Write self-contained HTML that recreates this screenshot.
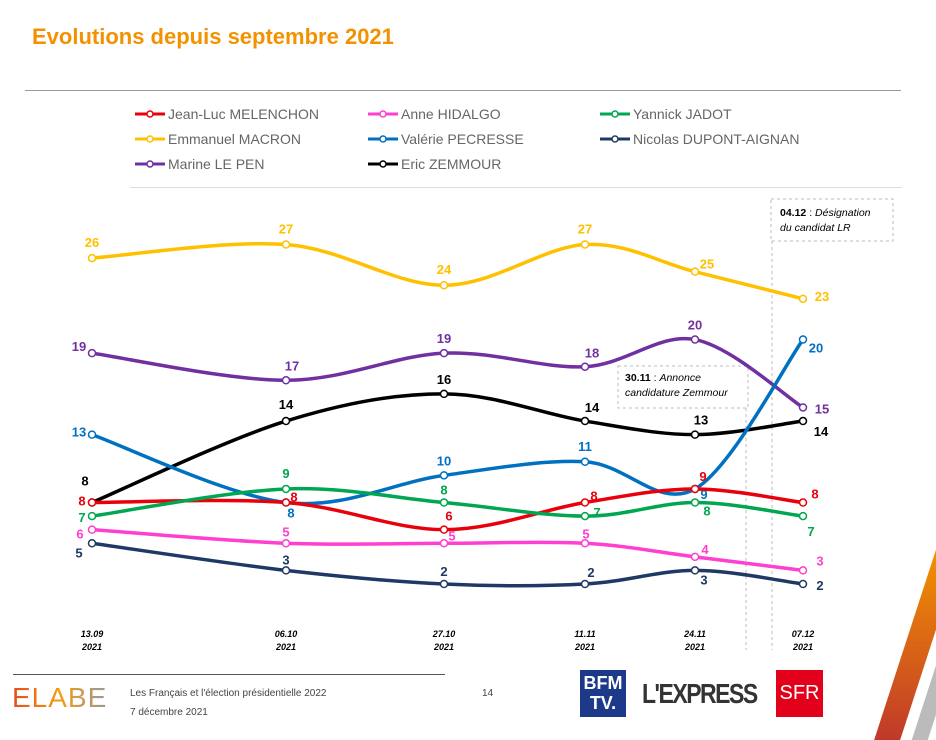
<!DOCTYPE html>
<html><head><meta charset="utf-8">
<style>
body{margin:0;width:936px;height:729px;background:#fff;font-family:"Liberation Sans",sans-serif;overflow:hidden;position:relative}
.abs{position:absolute}
</style></head><body>
<div class="abs" style="left:32px;top:24px;font-size:22px;font-weight:bold;color:#f39200">Evolutions depuis septembre 2021</div>
<div class="abs" style="left:25px;top:90px;width:876px;height:1px;background:#999"></div>
<div class="abs" style="left:130px;top:187px;width:772px;height:1px;background:#ddd"></div>
<svg id="chart" class="abs" style="left:0;top:0" width="936" height="729"></svg>
<div class="abs" style="left:13px;top:674px;width:432px;height:1px;background:#555"></div>
<div class="abs" style="left:12px;top:682px;font-size:28px;letter-spacing:1px;color:#c0392b;background:linear-gradient(90deg,#e74c1c,#f39c12,#999);-webkit-background-clip:text;background-clip:text;-webkit-text-fill-color:transparent">ELABE</div>
<div class="abs" style="left:130px;top:688px;font-size:10px;color:#444">Les Français et l'élection présidentielle 2022</div>
<div class="abs" style="left:130px;top:707px;font-size:10px;color:#444">7 décembre 2021</div>
<div class="abs" style="left:482px;top:688px;font-size:10px;color:#444">14</div>
<div class="abs" style="left:580px;top:670px;width:46px;height:47px;background:#1d3a8a;color:#fff;font-weight:bold;font-size:18px;line-height:20px;text-align:center;padding-top:3px;box-sizing:border-box">BFM<br>TV.</div>
<div class="abs" style="left:642px;top:678px;font-size:23px;font-weight:bold;color:#333;letter-spacing:-1.5px;transform:scaleY(1.2);transform-origin:top left">L'EXPRESS</div>
<div class="abs" style="left:776px;top:670px;width:47px;height:47px;background:#e2001a;color:#fff;font-size:20px;line-height:47px;text-align:center">SFR</div>
<div class="abs" style="left:905px;top:550px;width:26px;height:190px;background:linear-gradient(#f39200,#c0392b);transform:skewX(-18deg)"></div>
<div class="abs" style="left:928px;top:640px;width:16px;height:100px;background:#bbb;transform:skewX(-18deg)"></div>
<script>
const dates=["13.09","06.10","27.10","11.11","24.11","07.12"];
const years=["2021","2021","2021","2021","2021","2021"];
const names=["Jean-Luc MELENCHON","Anne HIDALGO","Yannick JADOT","Emmanuel MACRON","Valérie PECRESSE","Nicolas DUPONT-AIGNAN","Marine LE PEN","Eric ZEMMOUR"];
const melenchon=[8,8,6,8,9,8];
const hidalgo=[6,5,5,5,4,3];
const jadot=[7,9,8,7,8,7];
const macron=[26,27,24,27,25,23];
const pecresse=[13,8,10,11,9,20];
const dupontAignan=[5,3,2,2,3,2];
const lepen=[19,17,19,18,20,15];
const zemmour=[8,14,16,14,13,14];
const series=[melenchon,hidalgo,jadot,macron,pecresse,dupontAignan,lepen,zemmour];
const colors=["#e8000b","#ff3fcf","#00a650","#ffc000","#0070c0","#1f3864","#7030a0","#000000"];
const xPix=[92,286,444,585,695,803];
const ns="http://www.w3.org/2000/svg";
const svg=document.getElementById('chart');
function X(i){return xPix[i];}
function Y(v){return 584-(v-2)*13.58;}
function mk(t,a){const e=document.createElementNS(ns,t);for(const k in a)e.setAttribute(k,a[k]);svg.appendChild(e);return e;}
const offs=[
 [[-10,-2],[8,-6],[5,-14],[9,-7],[8,-13],[12,-9]],
 [[-12,4],[0,-12],[8,-8],[1,-10],[10,-8],[17,-10]],
 [[-10,1],[0,-16],[0,-13],[12,-4],[12,8],[8,15]],
 [[0,-16],[0,-16],[0,-16],[0,-16],[12,-8],[19,-3]],
 [[-13,-3],[5,10],[0,-15],[0,-16],[9,5],[13,8]],
 [[-13,9],[0,-11],[0,-13],[6,-12],[9,9],[17,1]],
 [[-13,-7],[6,-15],[0,-15],[7,-14],[0,-15],[19,1]],
 [[-7,-22],[0,-17],[0,-15],[7,-14],[6,-15],[18,10]]];
const a1=mk('rect',{x:618,y:366,width:130,height:42,fill:'#fff',stroke:'#bbb','stroke-dasharray':'3,3'});

const a2=mk('rect',{x:771,y:199,width:122,height:42,fill:'#fff',stroke:'#bbb','stroke-dasharray':'3,3'});

const v1=mk('line',{x1:746,y1:408,x2:746,y2:650,stroke:'#bbb','stroke-dasharray':'3,3'});

const v2=mk('line',{x1:772,y1:241,x2:772,y2:650,stroke:'#bbb','stroke-dasharray':'3,3'});

function txt(x,y,s,st,name){const t=mk('text',{x:x,y:y});t.setAttribute('style',st);t.innerHTML=s;return t;}
txt(625,381,'<tspan font-weight="bold">30.11</tspan> : <tspan font-style="italic">Annonce</tspan>','font-size:10.5px;fill:#000','annotation-zemmour-line1');
txt(625,396,'candidature Zemmour','font-size:10.5px;fill:#000;font-style:italic','annotation-zemmour-line2');
txt(780,216,'<tspan font-weight="bold">04.12</tspan> : <tspan font-style="italic">Désignation</tspan>','font-size:10.5px;fill:#000','annotation-lr-line1');
txt(780,231,'du candidat LR','font-size:10.5px;fill:#000;font-style:italic','annotation-lr-line2');
dates.forEach((d,i)=>{
 txt(X(i),637,d,'font-size:9px;font-weight:bold;font-style:italic;text-anchor:middle;fill:#000','x-label-'+d);
 txt(X(i),650,years[i],'font-size:9px;font-weight:bold;font-style:italic;text-anchor:middle;fill:#000','x-year-'+i);
});
function path(pts){let d=`M${pts[0][0]},${pts[0][1]}`;const t=0.5;
 for(let i=0;i<pts.length-1;i++){const p0=pts[Math.max(0,i-1)],p1=pts[i],p2=pts[i+1],p3=pts[Math.min(pts.length-1,i+2)];
  const c1=[p1[0]+(p2[0]-p0[0])*t/3,p1[1]+(p2[1]-p0[1])*t/3],c2=[p2[0]-(p3[0]-p1[0])*t/3,p2[1]-(p3[1]-p1[1])*t/3];
  d+=` C${c1[0]},${c1[1]} ${c2[0]},${c2[1]} ${p2[0]},${p2[1]}`;}return d;}
const legPos=[[135,114],[368,114],[600,114],[135,139],[368,139],[600,139],[135,164],[368,164]];
names.forEach((n,k)=>{const [lx,ly]=legPos[k];
 const l=mk('line',{x1:lx,y1:ly,x2:lx+30,y2:ly,stroke:colors[k],'stroke-width':3});
 
 const c=mk('circle',{cx:lx+15,cy:ly,r:3,fill:'#fff',stroke:colors[k],'stroke-width':1.5});
 
 txt(lx+33,ly+5,n,'font-size:14px;fill:#666','legend-entry-'+k);
});
const order=[3,6,7,4,0,2,1,5];
order.forEach(k=>{const s=series[k];const pts=s.map((v,i)=>[X(i),Y(v)]);
 const p=mk('path',{d:path(pts),fill:'none',stroke:colors[k],'stroke-width':3.5});
 
 s.forEach((v,i)=>{const c=mk('circle',{cx:X(i),cy:Y(v),r:3.5,fill:'#fff',stroke:colors[k],'stroke-width':1.5});
  
  const o=offs[k][i];
  txt(X(i)+o[0],Y(v)+o[1]+5,String(v),'font-size:13px;font-weight:bold;text-anchor:middle;fill:'+colors[k],'value-label-'+k+'-'+i);
 });
});
</script>
</body></html>
